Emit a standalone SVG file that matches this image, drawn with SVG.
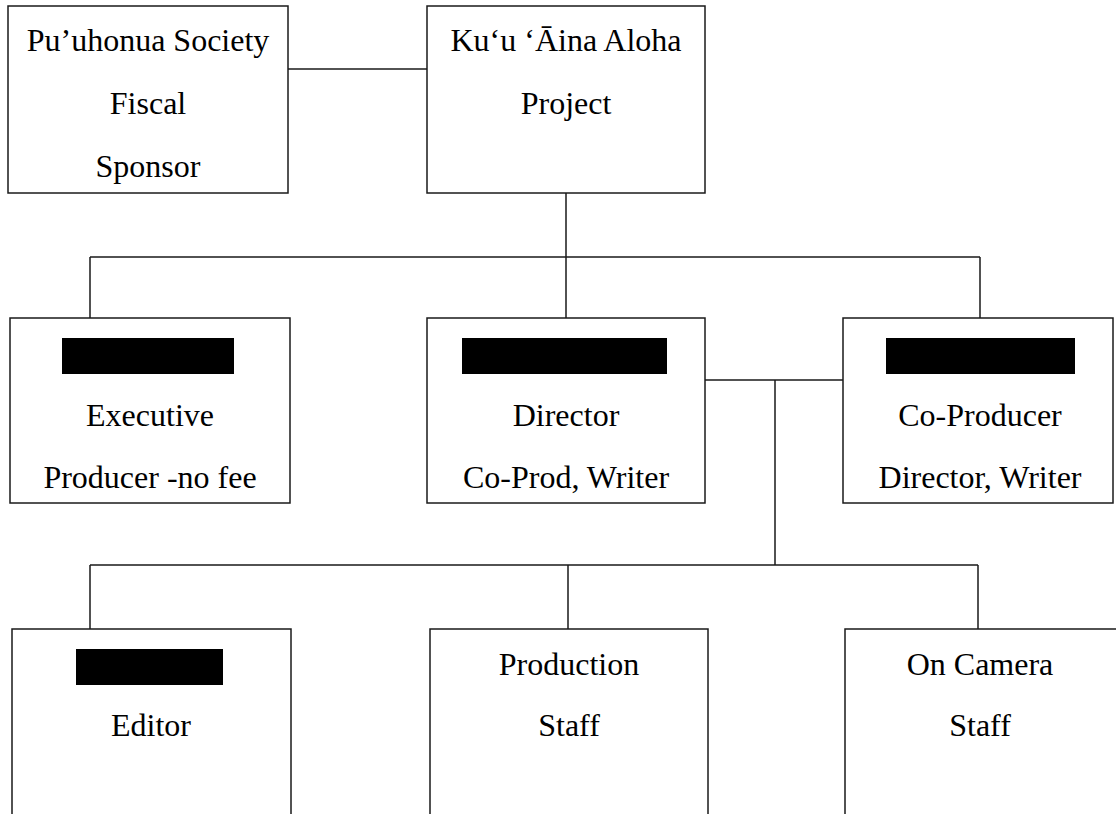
<svg xmlns="http://www.w3.org/2000/svg" width="1116" height="814" viewBox="0 0 1116 814">
<style>
.box{fill:#fff;stroke:#1a1a1a;stroke-width:1.5}
.ln{fill:none;stroke:#1a1a1a;stroke-width:1.5}
.t{font-family:'Liberation Serif','Tinos','DejaVu Serif',serif;font-size:32px;fill:#000;text-anchor:middle}
.red{fill:#000}
</style>
<rect width="1116" height="814" fill="#fff"/>
<g id="connectors">
<path class="ln" d="M288 69H427"/>
<path class="ln" d="M566 193V257M90 257H980M90 257V318M566 257V318M980 257V318"/>
<path class="ln" d="M705 380H843M775 380V565"/>
<path class="ln" d="M90 565H978M90 565V629M568 565V629M978 565V629"/>
</g>
<g id="n-puuhonua">
<rect class="box" x="8" y="6" width="280" height="187"/>
<text class="t" x="148" y="51">Pu’uhonua Society</text>
<text class="t" x="148" y="114">Fiscal</text>
<text class="t" x="148" y="177">Sponsor</text>
</g>
<g id="n-kuu">
<rect class="box" x="427" y="6" width="278" height="187"/>
<text class="t" x="566" y="51">Ku‘u ‘Āina Aloha</text>
<text class="t" x="566" y="114">Project</text>
</g>
<g id="n-exec">
<rect class="box" x="10" y="318" width="280" height="185"/>
<rect class="red" x="62" y="338" width="172" height="36"/>
<text class="t" x="150" y="426">Executive</text>
<text class="t" x="150" y="488">Producer -no fee</text>
</g>
<g id="n-director">
<rect class="box" x="427" y="318" width="278" height="185"/>
<rect class="red" x="462" y="338" width="205" height="36"/>
<text class="t" x="566" y="426">Director</text>
<text class="t" x="566" y="488">Co-Prod, Writer</text>
</g>
<g id="n-coproducer">
<rect class="box" x="843" y="318" width="270" height="185"/>
<rect class="red" x="886" y="338" width="189" height="36"/>
<text class="t" x="980" y="426">Co-Producer</text>
<text class="t" x="980" y="488">Director, Writer</text>
</g>
<g id="n-editor">
<rect class="box" x="12" y="629" width="279" height="186"/>
<rect class="red" x="76" y="649" width="147" height="36"/>
<text class="t" x="151" y="736">Editor</text>
</g>
<g id="n-production">
<rect class="box" x="430" y="629" width="278" height="186"/>
<text class="t" x="569" y="675">Production</text>
<text class="t" x="569" y="736">Staff</text>
</g>
<g id="n-oncamera">
<rect class="box" x="845" y="629" width="272" height="186"/>
<text class="t" x="980" y="675">On Camera</text>
<text class="t" x="980" y="736">Staff</text>
</g>
</svg>
